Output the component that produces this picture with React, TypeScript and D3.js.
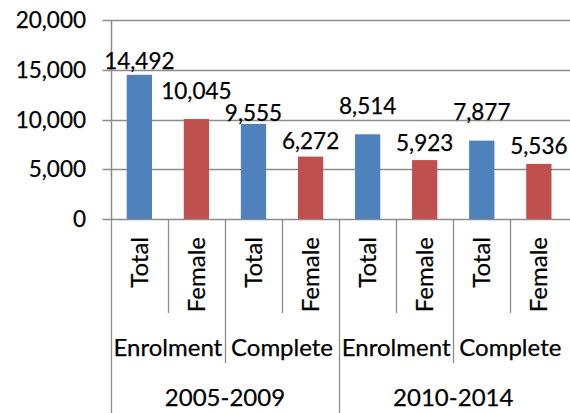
import React from "react";
import * as d3 from "d3";

const periods = ["2005-2009", "2010-2014"];
const stages = ["Enrolment", "Complete"];
const kinds = ["Total", "Female"];
const values = [14492, 10045, 9555, 6272, 8514, 5923, 7877, 5536];
const yTicks = [0, 5000, 10000, 15000, 20000];
// vertical distance (px) between bar top and its label baseline, as placed in the source
const labelGap = [6, 20, 3, 8, 20, 9, 21, 10];

const W = 570;
const H = 413;
const FONT = "Lato, 'Open Sans', sans-serif";
const BLUE = "#4F81BD";
const RED = "#C0504D";
const GRID = "#8C8C8C";
const TXT = { fill: "#000", stroke: "#000", strokeWidth: 0.25 };

const categories = periods.flatMap((p) =>
  stages.flatMap((s) => kinds.map((k) => ({ period: p, stage: s, kind: k })))
);

export default function App() {
  const left = 110.8;
  const right = 567.4;
  const top = 20;
  const bottom = 219;
  const idx = categories.map((_, i) => i);

  const xc = d3.scaleBand<number>().domain(idx).range([left, right]).padding(0);
  const xb = d3
    .scaleBand<number>()
    .domain(idx)
    .range([left, right])
    .paddingInner(0.557)
    .paddingOuter(0.2785);
  const y = d3.scaleLinear().domain([0, 20000]).range([bottom, top]);
  const fmt = d3.format(",");
  const step = xc.step();
  const n = categories.length;

  const snap = (v: number) => Math.round(v) + 0.5;

  const dividerEnd = (i: number) => {
    if (i === 0 || i === n / 2) return H;
    if (i % 2 === 1) return 313;
    return 363;
  };

  return (
    <svg
      width={W}
      height={H}
      style={{ position: "absolute", left: 0, top: 0, background: "#fff" }}
      fontFamily={FONT}
    >
      <rect width={W} height={H} fill="#fff" />
      {yTicks.map((t) => (
        <g key={t}>
          <line
            x1={102.5}
            x2={W}
            y1={snap(y(t))}
            y2={snap(y(t))}
            stroke={GRID}
            strokeWidth={1.3}
          />
          <text x={86} y={y(t) + 8} textAnchor="end" fontSize={22.5} {...TXT}>
            {fmt(t)}
          </text>
        </g>
      ))}
      {d3.range(0, n).map((i) => (
        <line
          key={i}
          x1={snap(left + i * step)}
          x2={snap(left + i * step)}
          y1={bottom}
          y2={dividerEnd(i)}
          stroke={GRID}
          strokeWidth={1.3}
        />
      ))}
      <line
        x1={snap(left)}
        x2={snap(left)}
        y1={top}
        y2={bottom}
        stroke={GRID}
        strokeWidth={1.5}
      />
      {values.map((v, i) => (
        <rect
          key={i}
          x={xb(i)}
          y={y(v)}
          width={xb.bandwidth()}
          height={y(0) - y(v)}
          fill={i % 2 === 0 ? BLUE : RED}
        />
      ))}
      {values.map((v, i) => (
        <text
          key={i}
          x={(xb(i) as number) + xb.bandwidth() / 2}
          y={y(v) - labelGap[i]}
          textAnchor="middle"
          fontSize={22.5}
          {...TXT}
        >
          {fmt(v)}
        </text>
      ))}
      {categories.map((c, i) => {
        const cx = (xc(i) as number) + step / 2;
        return (
          <text
            key={i}
            transform={`translate(${cx + 8.5},237) rotate(-90)`}
            textAnchor="end"
            fontSize={24}
            {...TXT}
          >
            {c.kind}
          </text>
        );
      })}
      {d3.range(0, n / 2).map((j) => {
        const cx = left + (j * 2 + 1) * step;
        return (
          <text key={j} x={cx} y={356} textAnchor="middle" fontSize={24} {...TXT}>
            {categories[j * 2].stage}
          </text>
        );
      })}
      {periods.map((p, j) => {
        const cx = left + (j * 4 + 2) * step;
        return (
          <text key={p} x={cx} y={406} textAnchor="middle" fontSize={24} {...TXT}>
            {p}
          </text>
        );
      })}
    </svg>
  );
}
